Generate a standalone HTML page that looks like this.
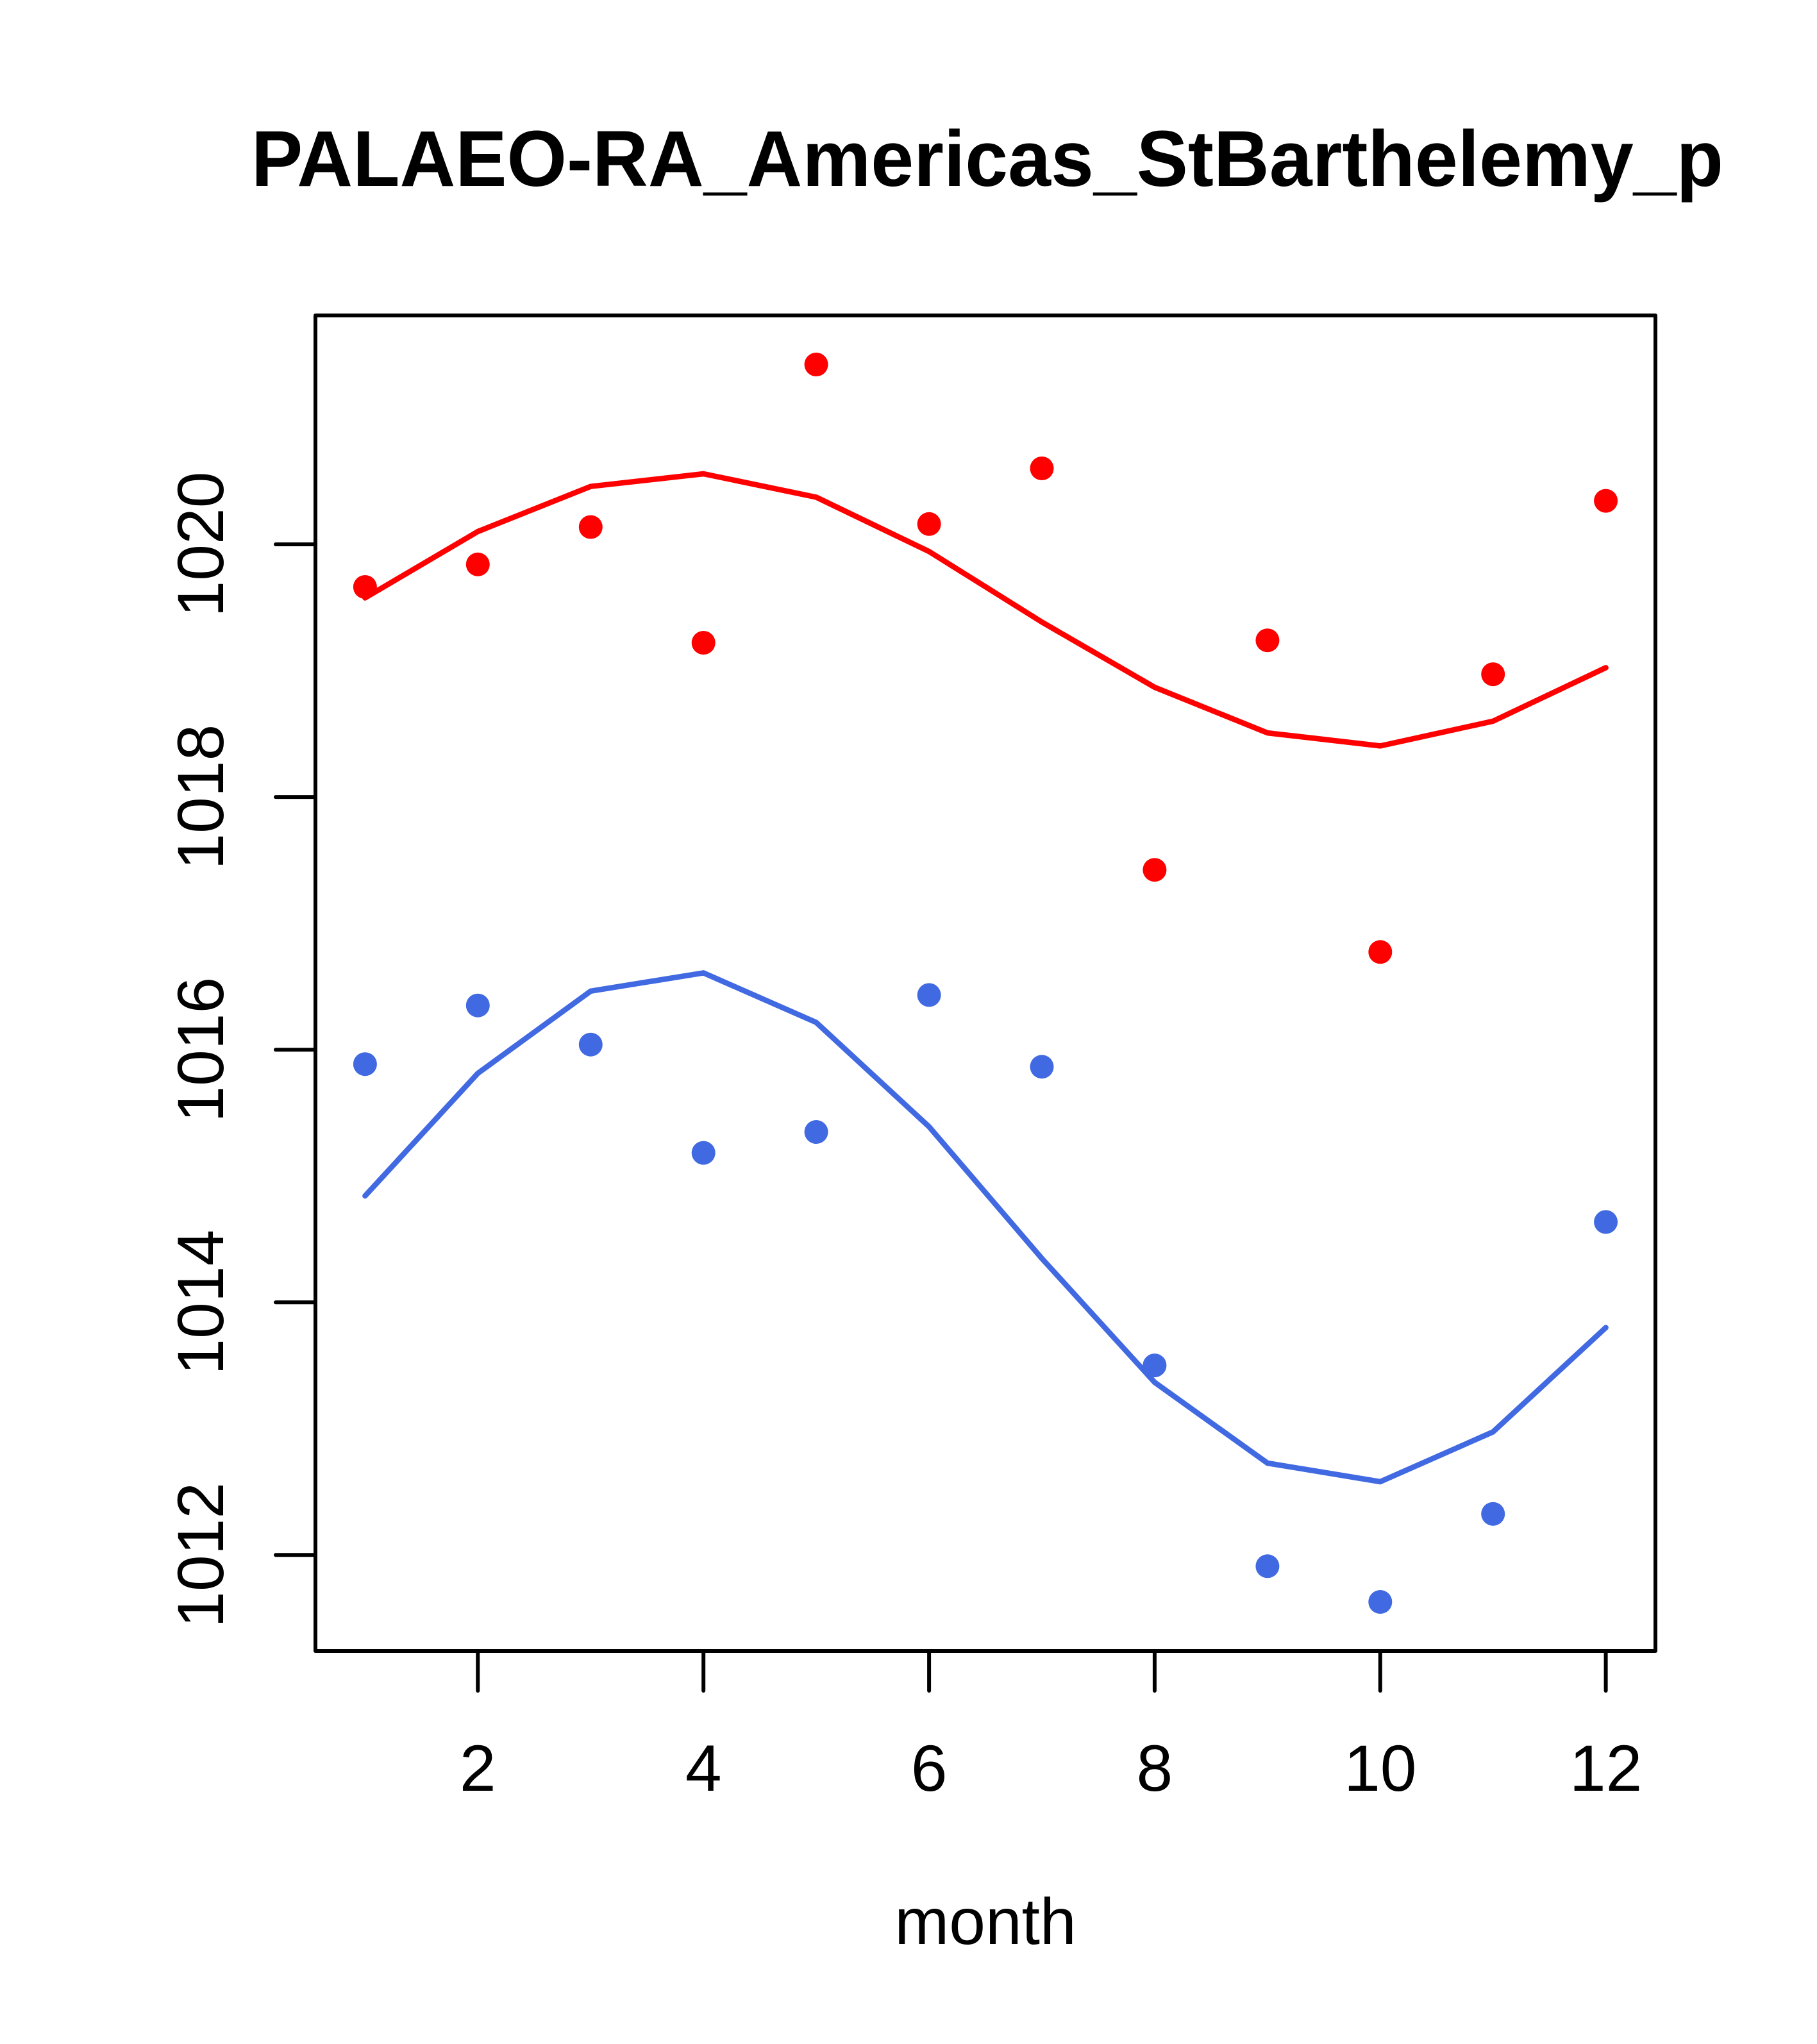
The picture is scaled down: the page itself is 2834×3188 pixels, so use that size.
<!DOCTYPE html>
<html>
<head>
<meta charset="utf-8">
<style>
  html, body { margin: 0; padding: 0; background: #ffffff; }
  svg { display: block; }
  text { font-family: "Liberation Sans", Arial, Helvetica, sans-serif; fill: #000; }
</style>
</head>
<body>
<svg width="2834" height="3188" viewBox="0 0 2834 3188" xmlns="http://www.w3.org/2000/svg">
  <rect x="0" y="0" width="2834" height="3188" fill="#ffffff"/>

  <!-- Title -->
  <text x="1540" y="290" font-size="123" font-weight="bold" text-anchor="middle" textLength="2296" lengthAdjust="spacingAndGlyphs">PALAEO-RA_Americas_StBarthelemy_p</text>

  <!-- Plot box -->
  <rect x="492" y="492" width="2090" height="2083" fill="none" stroke="#000" stroke-width="6" stroke-linejoin="round"/>

  <!-- X axis ticks -->
  <g stroke="#000" stroke-width="6" stroke-linecap="round">
    <line x1="745.3" y1="2575" x2="745.3" y2="2637"/>
    <line x1="1097.2" y1="2575" x2="1097.2" y2="2637"/>
    <line x1="1449.1" y1="2575" x2="1449.1" y2="2637"/>
    <line x1="1800.9" y1="2575" x2="1800.9" y2="2637"/>
    <line x1="2152.8" y1="2575" x2="2152.8" y2="2637"/>
    <line x1="2504.6" y1="2575" x2="2504.6" y2="2637"/>
  </g>
  <g font-size="102" text-anchor="middle">
    <text x="745.3" y="2793">2</text>
    <text x="1097.2" y="2793">4</text>
    <text x="1449.1" y="2793">6</text>
    <text x="1800.9" y="2793">8</text>
    <text x="2152.8" y="2793">10</text>
    <text x="2504.6" y="2793">12</text>
  </g>

  <!-- Y axis ticks -->
  <g stroke="#000" stroke-width="6" stroke-linecap="round">
    <line x1="492" y1="849" x2="430" y2="849"/>
    <line x1="492" y1="1243.1" x2="430" y2="1243.1"/>
    <line x1="492" y1="1637.2" x2="430" y2="1637.2"/>
    <line x1="492" y1="2031.2" x2="430" y2="2031.2"/>
    <line x1="492" y1="2425.3" x2="430" y2="2425.3"/>
  </g>
  <g font-size="102" text-anchor="middle">
    <text transform="translate(348,849) rotate(-90)">1020</text>
    <text transform="translate(348,1243.1) rotate(-90)">1018</text>
    <text transform="translate(348,1637.2) rotate(-90)">1016</text>
    <text transform="translate(348,2031.2) rotate(-90)">1014</text>
    <text transform="translate(348,2425.3) rotate(-90)">1012</text>
  </g>

  <!-- X axis label -->
  <text x="1537" y="3032" font-size="102" text-anchor="middle">month</text>

  <!-- Red series -->
  <polyline fill="none" stroke="#FF0000" stroke-width="8.5" stroke-linecap="round" stroke-linejoin="round"
    points="569.4,932.5 745.3,829 921.3,758.7 1097.2,739 1273.1,775.5 1449.1,860.2 1625,970.2 1800.9,1071.9 1976.9,1143.1 2152.8,1163.4 2328.7,1124.8 2504.6,1041.4"/>
  <g fill="#FF0000">
    <circle cx="569.4" cy="915.5" r="18.5"/>
    <circle cx="745.3" cy="880.3" r="18.5"/>
    <circle cx="921.3" cy="822" r="18.5"/>
    <circle cx="1097.2" cy="1002.5" r="18.5"/>
    <circle cx="1273.1" cy="568.5" r="18.5"/>
    <circle cx="1449.1" cy="817.3" r="18.5"/>
    <circle cx="1625" cy="730.5" r="18.5"/>
    <circle cx="1800.9" cy="1356.7" r="18.5"/>
    <circle cx="1976.9" cy="998.7" r="18.5"/>
    <circle cx="2152.8" cy="1484.8" r="18.5"/>
    <circle cx="2328.7" cy="1051.6" r="18.5"/>
    <circle cx="2504.6" cy="781.1" r="18.5"/>
  </g>

  <!-- Blue series -->
  <polyline fill="none" stroke="#4169E1" stroke-width="8.5" stroke-linecap="round" stroke-linejoin="round"
    points="569.4,1865.2 745.3,1674 921.3,1545.8 1097.2,1517.4 1273.1,1594.7 1449.1,1757.4 1625,1962.8 1800.9,2156 1976.9,2282 2152.8,2311 2328.7,2233.3 2504.6,2070.6"/>
  <g fill="#4169E1">
    <circle cx="569.4" cy="1659.7" r="18.5"/>
    <circle cx="745.3" cy="1568.2" r="18.5"/>
    <circle cx="921.3" cy="1629.2" r="18.5"/>
    <circle cx="1097.2" cy="1798.1" r="18.5"/>
    <circle cx="1273.1" cy="1765.5" r="18.5"/>
    <circle cx="1449.1" cy="1551.9" r="18.5"/>
    <circle cx="1625" cy="1663.8" r="18.5"/>
    <circle cx="1800.9" cy="2129.6" r="18.5"/>
    <circle cx="1976.9" cy="2442.8" r="18.5"/>
    <circle cx="2152.8" cy="2498.5" r="18.5"/>
    <circle cx="2328.7" cy="2361.2" r="18.5"/>
    <circle cx="2504.6" cy="1905.9" r="18.5"/>
  </g>
</svg>
</body>
</html>
